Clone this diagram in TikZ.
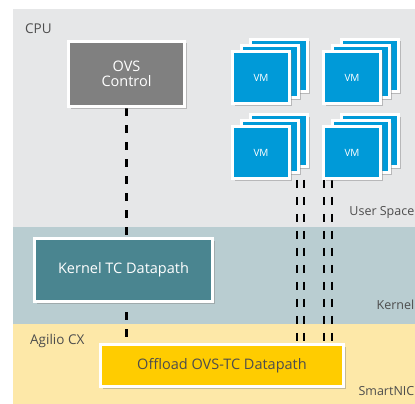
\documentclass[tikz,border=0pt]{standalone}
\usepackage{fontspec}
\setmainfont{Open Sans}
\usetikzlibrary{positioning,shadows,backgrounds,calc}

\definecolor{cpubg}{HTML}{E6E7E8}
\definecolor{kernelbg}{HTML}{B9CDD1}
\definecolor{nicbg}{HTML}{FDE8A8}
\definecolor{ctlgray}{HTML}{808080}
\definecolor{kernelteal}{HTML}{4A8590}
\definecolor{vmblue}{HTML}{009AD8}
\definecolor{nicyellow}{HTML}{FFCC00}
\definecolor{txtgray}{HTML}{4D4D4D}

\pgfdeclarelayer{regions}
\pgfsetlayers{regions,background,main}

\begin{document}
\begin{tikzpicture}[x=1pt, y=-1pt,
box/.style = {draw=white, line width=3pt, inner sep=0pt, align=center,
  drop shadow={shadow xshift=2pt, shadow yshift=-2pt, opacity=0.45},
  font=\fontsize{14.5}{15}\selectfont},
vmbox/.style = {box, fill=vmblue, line width=2.5pt, minimum width=57pt,
  minimum height=52pt, text=white, font=\fontsize{10}{11}\selectfont},
link/.style = {line width=2.6pt, dash pattern=on 8pt off 9pt},
tier/.style = {anchor=west, inner sep=0pt, text=txtgray, font=\fontsize{13.5}{14}\selectfont},
edgetier/.style = {tier, anchor=east, font=\fontsize{12.5}{13}\selectfont}]

\useasboundingbox (0,0) rectangle (415,404);

% tiers
\begin{pgfonlayer}{regions}
\fill [cpubg] (13,9) rectangle (415,227);
\fill [kernelbg] (13,227) rectangle (415,324);
\fill [nicbg] (13,324) rectangle (415,404);
\end{pgfonlayer}

\node [tier] (cpu) at (25,29) {CPU};
\node [tier] (agilio) at (30,341) {Agilio CX};
\node [edgetier] (user) at (414.5,212) {User Space};
\node [edgetier] (kernel) at (414.5,305) {Kernel};
\node [edgetier] (smartnic) at (414.5,391) {SmartNIC};

% boxes
\node [box, fill=ctlgray, text=white, minimum width=116pt, minimum height=65pt]
  (ovs) at (126.5,74) {OVS\\Control};
\node [box, fill=kernelteal, text=white, minimum width=178pt, minimum height=63pt]
  (ktc) at (123.5,270) {Kernel TC Datapath};
\node [box, fill=nicyellow, text=txtgray, minimum width=243pt, minimum height=42pt]
  (off) at (222,365.5) {Offload OVS-TC Datapath};

% VM stacks
\foreach \n/\x/\y in {vma/261/77.5, vmb/352/77.5, vmc/261/152.5, vmd/352/152.5}{
  \node [vmbox] (\n3) at (\x+18,\y-12) {};
  \node [vmbox] (\n2) at (\x+9,\y-6) {};
  \node [vmbox] (\n) at (\x,\y) {VM};
}

% links
\coordinate (la) at ($(vmc.south)+(36,0)$);
\coordinate (lb) at ($(vmc.south)+(43,0)$);
\coordinate (lc) at ($(vmd.south)+(-28,0)$);
\coordinate (ld) at ($(vmd.south)+(-20,0)$);

\begin{pgfonlayer}{background}
\draw [link] (ovs.south) -- (ovs.south |- off.north);
\foreach \c in {la,lb,lc,ld}
  \draw [link] (\c) -- (\c |- off.north);
\end{pgfonlayer}

\end{tikzpicture}
\end{document}
